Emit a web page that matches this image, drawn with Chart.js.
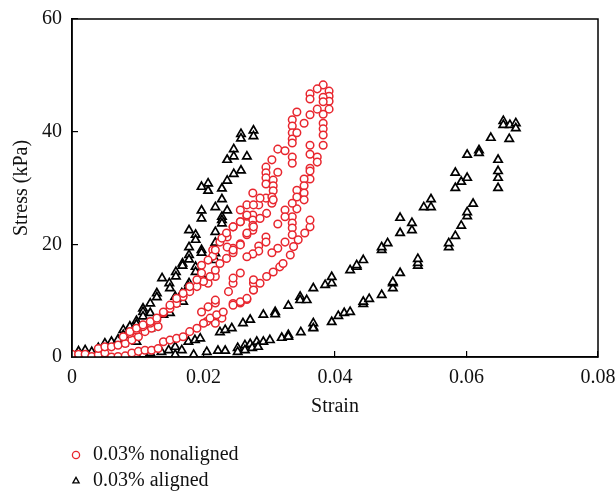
<!DOCTYPE html>
<html>
<head>
<meta charset="utf-8">
<script src="https://cdn.jsdelivr.net/npm/chart.js@4.4.1/dist/chart.umd.min.js"></script>
<style>
  html, body { margin: 0; padding: 0; background: #fff; }
  canvas { display: block; }
</style>
</head>
<body>
<canvas id="myChart" width="616" height="494"></canvas>
<script>
const ctx = document.getElementById('myChart');

// series names and axis ticks
const seriesNames = ['0.03% nonaligned', '0.03% aligned'];
const xTicks = [0, 0.02, 0.04, 0.06, 0.08];
const yTicks = [0, 20, 40, 60];

// [strain, stress (kPa)]
const nonalignedPoints = [
  [0.0382,48.3],[0.0373,47.6],[0.0362,46.7],[0.0362,45.8],[0.0391,47.2],[0.0391,46.3],[0.0391,45.4],
  [0.0382,46.1],[0.0382,45.3],[0.0391,44.0],[0.0382,43.1],[0.0373,44.0],[0.0362,43.0],[0.0382,41.5],
  [0.0382,40.5],[0.0382,39.4],[0.0382,37.6],[0.0342,43.5],[0.0353,41.5],[0.0335,42.1],[0.0335,41.0],
  [0.0335,39.8],[0.0335,38.7],[0.0335,38.0],[0.0342,39.8],[0.0313,36.9],[0.0324,36.6],[0.0335,35.5],
  [0.0335,34.4],[0.0304,35.0],[0.0313,32.8],[0.0295,33.7],[0.0295,32.7],[0.0295,31.8],[0.0295,30.7],
  [0.0306,31.4],[0.0306,30.4],[0.0306,29.5],
  [0.0362,37.6],[0.0362,36.0],[0.0373,35.5],[0.0373,34.6],[0.0362,33.5],[0.0362,33.0],[0.0362,31.6],
  [0.0353,31.6],[0.0353,30.4],[0.0353,29.1],[0.0353,27.9],[0.0342,29.6],[0.0342,28.4],[0.0342,26.3],
  [0.0335,27.3],[0.0324,26.1],[0.0335,24.9],[0.0335,23.8],[0.0335,22.9],[0.0335,21.7],[0.0324,24.9],
  [0.0313,23.6],[0.0324,20.4],[0.0313,19.3],[0.0304,18.5],[0.0295,21.3],[0.0295,20.4],
  [0.0284,19.7],[0.0284,18.8],[0.0275,18.3],[0.0266,17.8],[0.0256,20.1],[0.0245,19.3],[0.0245,18.5],
  [0.0236,19.5],[0.0225,20.4],[0.0214,19.0],[0.0214,17.9],
  [0.0275,29.1],[0.0284,27.0],[0.0295,28.2],[0.0304,28.4],[0.0304,27.3],[0.0266,27.0],[0.0256,26.1],
  [0.0266,25.0],[0.0275,25.2],[0.0275,24.3],[0.0275,23.4],[0.0275,22.5],[0.0256,24.0],[0.0245,23.1],
  [0.0266,21.7],[0.0236,21.3],
  [0.0207,13.1],[0.0218,14.3],[0.0245,13.1],[0.0245,14.0],[0.0238,11.6],[0.0245,9.5],[0.0256,9.6],
  [0.0266,10.2],[0.0276,11.9],[0.0276,13.1],[0.0276,13.7],[0.0218,9.6],[0.0218,10.1],[0.0207,8.9],
  [0.0197,8.0],[0.0205,6.3],[0.0218,6.0],[0.0228,6.9],[0.0256,14.9],
  [0.0000,0.5],[0.0010,0.5],[0.0020,0.5],[0.0030,0.1],[0.0040,0.4],[0.0050,0.7],[0.0060,0.0],
  [0.0070,0.1],[0.0081,0.2],[0.0091,0.7],[0.0101,1.0],[0.0111,1.2],[0.0121,1.2],[0.0131,1.5],
  [0.0040,1.5],[0.0050,1.8],[0.0060,1.8],[0.0070,2.1],[0.0081,2.4],[0.0091,3.0],[0.0101,3.6],
  [0.0111,4.5],[0.0121,5.1],[0.0131,5.4],
  [0.0139,2.7],[0.0149,3.0],[0.0159,3.3],[0.0169,3.6],[0.0179,4.5],[0.0190,5.1],[0.0200,6.0],
  [0.0210,6.9],[0.0220,7.5],[0.0230,8.0],[0.0245,9.2],[0.0256,9.8],[0.0266,10.4],[0.0276,11.9],
  [0.0286,13.1],[0.0296,14.3],[0.0306,15.1],[0.0316,16.0],[0.0321,16.6],[0.0332,18.1],[0.0337,19.6],
  [0.0344,20.8],[0.0354,22.0],[0.0362,23.1],[0.0362,24.3],
  [0.0088,4.2],[0.0098,4.8],[0.0108,5.4],[0.0119,6.0],[0.0129,6.6],[0.0139,7.8],[0.0149,8.6],
  [0.0159,9.5],[0.0169,10.7],[0.0179,11.6],[0.0190,12.5],[0.0200,13.4],[0.0210,14.3],[0.0218,15.4],
  [0.0225,16.6],[0.0235,17.5],[0.0245,19.0],[0.0256,19.9],[0.0266,22.0],[0.0276,23.1],[0.0286,24.6],
  [0.0296,25.5],[0.0306,27.9],
  [0.0078,3.6],[0.0088,4.5],[0.0098,5.1],[0.0108,5.7],[0.0119,6.3],[0.0129,6.9],[0.0139,8.0],
  [0.0149,9.2],[0.0159,10.4],[0.0169,11.3],[0.0179,12.5],[0.0190,13.7],[0.0197,14.9],[0.0197,16.3],
  [0.0207,17.2],[0.0218,19.0],[0.0228,21.1],[0.0235,22.0],[0.0245,23.1],[0.0256,24.0],[0.0266,25.2],
  [0.0276,27.0],[0.0286,28.2]
];

const alignedPoints = [
  [0.0000,0.0],[0.0010,1.0],[0.0020,1.2],[0.0030,0.9],[0.0040,1.6],[0.0050,2.4],[0.0060,2.7],
  [0.0070,3.1],[0.0078,4.8],[0.0078,3.9],[0.0088,5.4],[0.0098,6.4],[0.0098,5.8],[0.0108,8.6],
  [0.0108,8.0],[0.0119,9.5],[0.0129,11.3],[0.0129,10.6],[0.0137,14.0],[0.0148,13.1],[0.0149,12.2],
  [0.0158,15.1],[0.0158,14.3],[0.0168,16.6],[0.0168,16.2],[0.0178,19.5],[0.0178,18.1],[0.0178,17.3],
  [0.0178,22.5],[0.0188,21.7],[0.0188,20.8],[0.0197,19.0],[0.0197,18.5],[0.0197,26.0],[0.0197,24.6],
  [0.0207,30.8],[0.0197,30.2],[0.0207,29.5],[0.0218,26.6],[0.0228,29.9],[0.0228,28.0],[0.0228,24.9],
  [0.0228,24.3],[0.0228,23.7],[0.0236,26.0],[0.0218,22.2],[0.0218,20.3],[0.0218,18.4],[0.0218,17.2],
  [0.0236,31.3],[0.0246,32.5],[0.0257,33.1],[0.0236,35.0],[0.0246,36.9],[0.0246,35.6],[0.0266,35.6],
  [0.0257,39.6],[0.0257,38.8],[0.0276,40.2],[0.0276,39.2],
  [0.0188,16.0],[0.0188,15.1],[0.0198,14.3],[0.0178,13.1],[0.0177,12.5],[0.0157,10.7],[0.0167,11.3],
  [0.0169,9.8],[0.0157,9.5],[0.0119,7.8],[0.0108,7.2],[0.0139,7.5],[0.0149,7.8],[0.0119,5.1],
  [0.0098,2.7],[0.0078,2.4],[0.0098,0.4],[0.0119,0.7],[0.0136,0.9],[0.0147,1.2],[0.0157,0.4],
  [0.0157,1.8],[0.0167,1.2],[0.0177,2.7],[0.0187,3.0],[0.0195,3.3],[0.0185,0.4],
  [0.0205,0.9],[0.0222,1.1],[0.0233,1.1],[0.0252,1.6],[0.0263,2.1],[0.0271,2.3],[0.0281,2.7],
  [0.0291,2.7],[0.0301,3.0],[0.0252,0.9],[0.0263,1.2],[0.0274,1.6],[0.0283,1.8],
  [0.0225,4.4],[0.0233,4.8],[0.0243,5.1],[0.0260,6.0],[0.0271,6.6],[0.0291,7.5],[0.0309,8.0],
  [0.0309,7.6],[0.0329,9.1],[0.0347,10.7],[0.0347,10.1],[0.0357,10.1],[0.0367,12.2],[0.0385,12.8],
  [0.0395,13.1],[0.0395,14.2],[0.0423,15.4],[0.0433,16.0],[0.0433,16.3],[0.0443,17.2],[0.0471,19.0],
  [0.0471,19.5],[0.0480,20.2],[0.0499,22.0],[0.0499,24.7],[0.0517,22.5],[0.0517,23.8],[0.0535,26.6],
  [0.0546,26.6],[0.0546,28.0],[0.0583,30.0],[0.0583,32.7],[0.0592,31.1],[0.0601,31.8],[0.0601,35.9],
  [0.0619,36.7],[0.0619,36.2],[0.0637,38.9],[0.0656,41.9],[0.0656,41.2],[0.0666,41.2],[0.0675,41.5],
  [0.0675,40.6],[0.0665,38.7],
  [0.0319,3.4],[0.0329,3.9],[0.0329,3.6],[0.0348,4.4],[0.0367,5.3],[0.0367,6.0],[0.0367,5.1],
  [0.0395,6.2],[0.0405,7.3],[0.0414,7.8],[0.0423,8.0],[0.0443,9.4],[0.0443,9.8],[0.0452,10.3],
  [0.0471,11.0],[0.0488,12.2],[0.0488,13.1],[0.0488,13.3],[0.0499,14.9],[0.0526,16.2],[0.0526,16.7],
  [0.0526,17.4],[0.0573,19.5],[0.0573,20.2],[0.0583,21.5],[0.0592,23.3],[0.0601,25.0],[0.0601,25.7],
  [0.0610,27.2],[0.0648,30.0],[0.0648,31.8],[0.0648,33.0],[0.0648,35.0]
];

const serif = "'Liberation Serif', 'DejaVu Serif', serif";
Chart.defaults.font.family = serif;
Chart.defaults.font.size = 20;
Chart.defaults.color = '#111';

function toXY(pts) {
  return pts.map(p => ({x: p[0], y: p[1]}));
}

// full box around the plot area
const frame = {
  id: 'frame',
  afterDatasetsDraw(chart) {
    const a = chart.chartArea;
    const c = chart.ctx;
    c.save();
    c.strokeStyle = '#000';
    c.lineWidth = 1.5;
    c.strokeRect(a.left, a.top, a.right - a.left, a.bottom - a.top);
    c.restore();
  }
};

// stacked legend at bottom left
const stackedLegend = {
  id: 'stackedLegend',
  afterDraw(chart) {
    const c = chart.ctx;
    const rows = [455, 481];
    chart.data.datasets.forEach((ds, i) => {
      c.save();
      c.strokeStyle = ds.borderColor;
      c.fillStyle = '#fff';
      c.lineWidth = 1.3;
      Chart.helpers.drawPoint(c, {pointStyle: ds.pointStyle, radius: 3.6, borderWidth: 1.3, rotation: 0}, 76, rows[i]);
      c.fillStyle = '#111';
      c.font = '20px ' + serif;
      c.textBaseline = 'middle';
      c.textAlign = 'left';
      c.fillText(ds.label, 93, rows[i]);
      c.restore();
    });
  }
};

new Chart(ctx, {
  type: 'scatter',
  data: {
    datasets: [
      {
        label: seriesNames[0],
        data: toXY(nonalignedPoints),
        pointStyle: 'circle',
        pointRadius: 3.8,
        pointBorderWidth: 1.5,
        borderColor: '#e8262e',
        backgroundColor: '#fff'
      },
      {
        label: seriesNames[1],
        data: toXY(alignedPoints),
        pointStyle: 'triangle',
        pointRadius: 4.8,
        pointBorderWidth: 1.7,
        borderColor: '#000',
        backgroundColor: '#fff'
      }
    ]
  },
  options: {
    responsive: false,
    animation: false,
    layout: { padding: { top: 19, right: 18, bottom: 75, left: 0 } },
    plugins: {
      legend: { display: false },
      tooltip: { enabled: false }
    },
    scales: {
      x: {
        type: 'linear',
        min: 0,
        max: 0.08,
        afterBuildTicks: s => { s.ticks = xTicks.map(v => ({value: v})); },
        afterFit: s => { s.height = 62; s.paddingLeft = 0; s.paddingRight = 0; },
        grid: { drawOnChartArea: false, drawTicks: true, tickLength: -6, color: '#000', lineWidth: 1.2 },
        border: { color: '#000', width: 1.5 },
        ticks: { padding: 15, maxRotation: 0, autoSkip: false, callback: v => String(v) },
        title: { display: true, text: 'Strain', padding: { top: 0, bottom: 0 } }
      },
      y: {
        type: 'linear',
        min: 0,
        max: 60,
        afterBuildTicks: s => { s.ticks = yTicks.map(v => ({value: v})); },
        afterFit: s => { s.width = 72; s.paddingTop = 0; s.paddingBottom = 0; },
        grid: { drawOnChartArea: false, drawTicks: true, tickLength: -6, color: '#000', lineWidth: 1.2 },
        border: { color: '#000', width: 1.5 },
        ticks: { padding: 16, callback: v => String(v) },
        title: { display: true, text: 'Stress (kPa)', padding: { top: 10, bottom: 0 } }
      }
    }
  },
  plugins: [frame, stackedLegend]
});
</script>
</body>
</html>
